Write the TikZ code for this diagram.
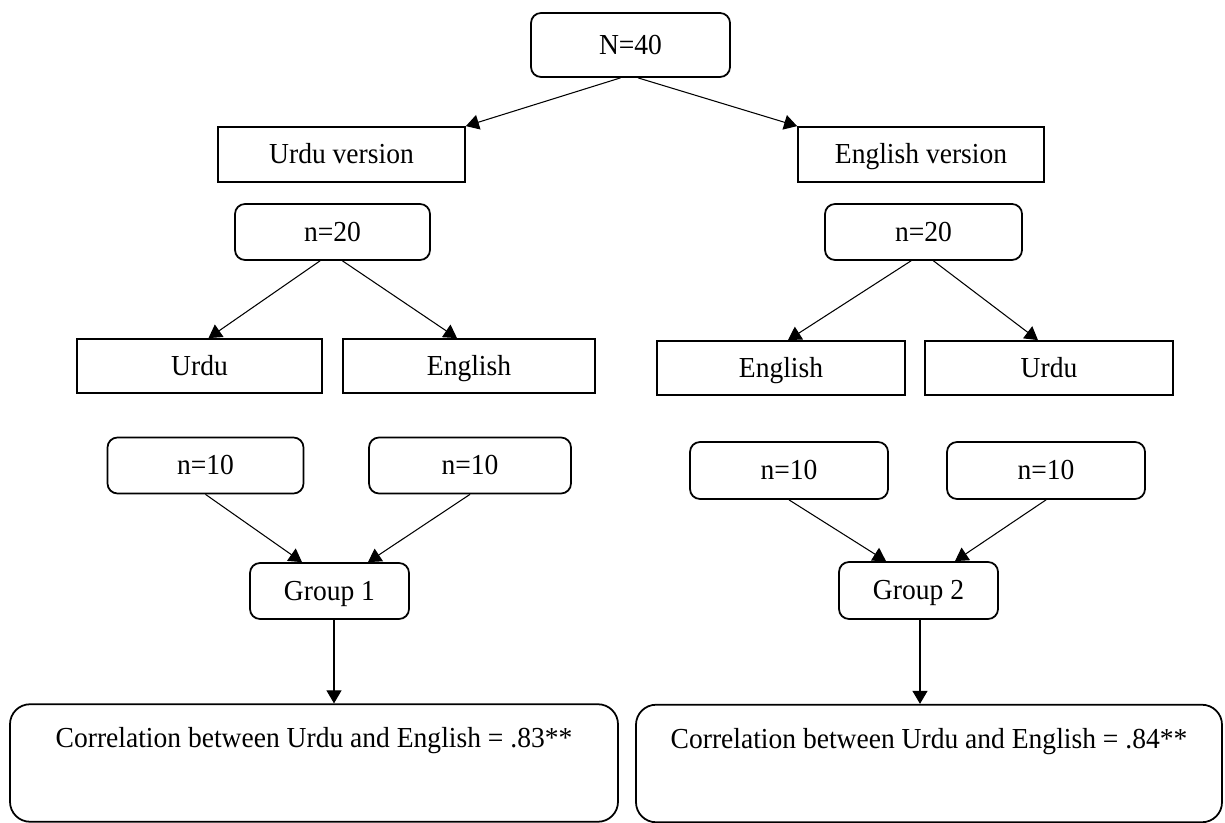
\documentclass[tikz,border=0pt]{standalone}
\usepackage{fontspec}
\setmainfont{Liberation Serif}[FakeStretch=0.95]
\usepackage{tikz}
\usetikzlibrary{arrows.meta,positioning,calc}

\tikzset{
  sqbox/.style={draw, line width=1pt, rectangle, minimum height=1.08cm, inner sep=2pt,
    text height=0.39cm, text depth=0.02cm},
  rndbox/.style={draw, line width=1pt, rectangle, rounded corners=0.2cm, minimum height=1.12cm, inner sep=2pt,
    text height=0.39cm, text depth=0.02cm},
  resbox/.style={rndbox, rounded corners=0.4cm, minimum height=0pt, inner xsep=2pt, inner ysep=0.45cm,
    text height=0.42cm, text depth=1.03cm},
  link/.style={line width=0.6pt, -{Triangle[length=0.26cm,width=0.3cm]}}
}

\begin{document}
\begin{tikzpicture}[font=\fontsize{16.5}{19}\selectfont]
  \useasboundingbox (0,0) rectangle (24.5,-16.46);
  % top
  \node[rndbox, minimum width=3.98cm, minimum height=1.28cm] (nall) at (12.61,-0.90) {N=40};
  \node[sqbox, minimum width=4.94cm, minimum height=1.1cm] (urduv) at (6.83,-3.09) {Urdu version};
  \node[sqbox, minimum width=4.92cm, minimum height=1.1cm] (engv) at (18.42,-3.09) {English version};
  % second level
  \node[rndbox, minimum width=3.9cm] (twentyL) at (6.65,-4.64) {n=20};
  \node[rndbox, minimum width=3.94cm] (twentyR) at (18.47,-4.64) {n=20};
  \node[sqbox, minimum width=4.9cm] (urduL) at (3.99,-7.32) {Urdu};
  \node[sqbox, minimum width=5.04cm] (engL) at (9.38,-7.32) {English};
  \node[sqbox, minimum width=4.96cm] (engR) at (15.62,-7.36) {English};
  \node[sqbox, minimum width=4.96cm] (urduR) at (20.98,-7.36) {Urdu};
  % groups
  \node[rndbox, minimum width=3.92cm] (tenA) at (4.11,-9.31) {n=10};
  \node[rndbox, minimum width=4.04cm] (tenB) at (9.40,-9.31) {n=10};
  \node[rndbox, minimum width=3.96cm, minimum height=1.14cm] (tenC) at (15.78,-9.41) {n=10};
  \node[rndbox, minimum width=3.96cm, minimum height=1.14cm] (tenD) at (20.92,-9.41) {n=10};
  \node[rndbox, minimum width=3.18cm] (grpA) at (6.59,-11.82) {Group 1};
  \node[rndbox, minimum width=3.18cm, minimum height=1.14cm] (grpB) at (18.37,-11.81) {Group 2};
  % results
  \node[resbox, minimum width=12.16cm] (corrA) at (6.28,-15.26) {Correlation between Urdu and English = .83**};
  \node[resbox, minimum width=11.72cm] (corrB) at (18.58,-15.27) {Correlation between Urdu and English = .84**};
  % links
  \draw[link] ([xshift=-0.2cm]nall.south) -- (urduv.north east);
  \draw[link] ([xshift=0.15cm]nall.south) -- (engv.north west);
  \draw[link] ([xshift=-0.25cm]twentyL.south) -- ([xshift=0.18cm]urduL.north);
  \draw[link] ([xshift=0.2cm]twentyL.south) -- ([xshift=-0.24cm]engL.north);
  \draw[link] ([xshift=-0.25cm]twentyR.south) -- ([xshift=0.14cm]engR.north);
  \draw[link] ([xshift=0.2cm]twentyR.south) -- ([xshift=-0.22cm]urduR.north);
  \draw[link] (tenA.south) -- ([xshift=-0.55cm]grpA.north);
  \draw[link] (tenB.south) -- ([xshift=0.77cm]grpA.north);
  \draw[link] (tenC.south) -- ([xshift=-0.65cm]grpB.north);
  \draw[link] (tenD.south) -- ([xshift=0.73cm]grpB.north);
  \draw[link] ([xshift=0.09cm]grpA.south) -- ([xshift=0.09cm]grpA.south |- corrA.north);
  \draw[link] ([xshift=0.03cm]grpB.south) -- ([xshift=0.03cm]grpB.south |- corrB.north);
\end{tikzpicture}
\end{document}
